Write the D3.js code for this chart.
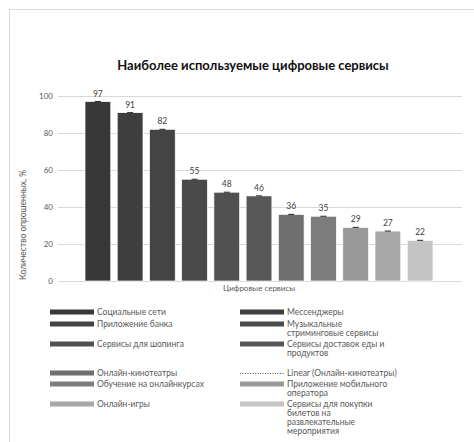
<!DOCTYPE html>
<html>
<head>
<meta charset="utf-8">
<script src="https://cdn.jsdelivr.net/npm/d3@7"></script>
<style>
  body { margin: 0; background: #fff; }
  text { font-family: Lato, "Open Sans", sans-serif; }
</style>
</head>
<body>
<div id="chart"></div>
<script>
const width = 474;
const height = 442;

// данные
const services = [
  "Социальные сети", "Мессенджеры", "Приложение банка",
  "Музыкальные стриминговые сервисы", "Сервисы для шопинга",
  "Сервисы доставок еды и продуктов", "Онлайн-кинотеатры",
  "Обучение на онлайнкурсах", "Приложение мобильного оператора",
  "Онлайн-игры", "Сервисы для покупки билетов на развлекательные мероприятия"
];
const values = [97, 91, 82, 55, 48, 46, 36, 35, 29, 27, 22];
const colors = ["#383838", "#3e3e3e", "#444444", "#4a4a4a", "#515151", "#575757",
  "#6f6f6f", "#7c7c7c", "#999999", "#a8a8a8", "#c4c4c4"];
const yTicks = [0, 20, 40, 60, 80, 100];

// легенда: строки как в Excel (по две в ряд)
const legendItems = [
  { name: "Социальные сети", lines: ["Социальные сети"], i: 0 },
  { name: "Мессенджеры", lines: ["Мессенджеры"], i: 1 },
  { name: "Приложение банка", lines: ["Приложение банка"], i: 2 },
  { name: "Музыкальные", lines: ["Музыкальные", "стриминговые сервисы"], i: 3 },
  { name: "Шопинг", lines: ["Сервисы для шопинга"], i: 4 },
  { name: "Доставка", lines: ["Сервисы доставок еды и", "продуктов"], i: 5 },
  { name: "Кино", lines: ["Онлайн-кинотеатры"], i: 6 },
  { name: "Linear", lines: ["Linear (Онлайн-кинотеатры)"], i: -1 },
  { name: "Обучение", lines: ["Обучение на онлайнкурсах"], i: 7 },
  { name: "Мобильный", lines: ["Приложение мобильного", "оператора"], i: 8 },
  { name: "Игры", lines: ["Онлайн-игры"], i: 9 },
  { name: "Билеты", lines: ["Сервисы для покупки", "билетов на", "развлекательные", "мероприятия"], i: 10 }
];
const legendRowY = [312, 324, 344, 373, 384, 404];

const svg = d3.select("#chart")
  .append("svg")
  .attr("width", width)
  .attr("height", height);

// рамка
svg.append("path")
  .attr("d", "M9.5," + height + "V9.5H" + width)
  .attr("fill", "none")
  .attr("stroke", "#d9d9d9");

svg.append("text")
  .attr("x", 253)
  .attr("y", 70)
  .attr("text-anchor", "middle")
  .attr("font-size", 13)
  .attr("font-weight", "bold")
  .attr("fill", "#111")
  .text("Наиболее используемые цифровые сервисы");

const y = d3.scaleLinear().domain([0, 100]).range([281, 96]);
const x = d3.scaleBand().domain(services).range([85, 433]).paddingInner(0.2);

// сетка
svg.selectAll(".grid")
  .data(yTicks)
  .enter()
  .append("line")
  .attr("x1", 58)
  .attr("x2", 462)
  .attr("y1", d => Math.round(y(d)) + 0.5)
  .attr("y2", d => Math.round(y(d)) + 0.5)
  .attr("stroke", "#d9d9d9");

svg.selectAll(".ytick")
  .data(yTicks)
  .enter()
  .append("text")
  .attr("x", 53)
  .attr("y", d => y(d) + 3)
  .attr("text-anchor", "end")
  .attr("font-size", 8)
  .attr("fill", "#595959")
  .text(d => d);

// столбцы
svg.selectAll(".bar")
  .data(values)
  .enter()
  .append("rect")
  .attr("x", (d, i) => x(services[i]))
  .attr("y", d => y(d))
  .attr("width", x.bandwidth())
  .attr("height", d => y(0) - y(d))
  .attr("fill", (d, i) => colors[i])
  .attr("stroke", "#fff")
  .attr("stroke-width", 0.7);

// маленькие "усы" сверху
svg.selectAll(".cap")
  .data(values)
  .enter()
  .append("line")
  .attr("x1", (d, i) => x(services[i]) + x.bandwidth() / 2 - 3)
  .attr("x2", (d, i) => x(services[i]) + x.bandwidth() / 2 + 3)
  .attr("y1", d => y(d))
  .attr("y2", d => y(d))
  .attr("stroke", "#222")
  .attr("stroke-width", 1);

svg.selectAll(".val")
  .data(values)
  .enter()
  .append("text")
  .attr("x", (d, i) => x(services[i]) + x.bandwidth() / 2)
  .attr("y", d => y(d) - 5)
  .attr("text-anchor", "middle")
  .attr("font-size", 8.5)
  .attr("fill", "#404040")
  .text(d => d);

svg.append("text")
  .attr("x", 259)
  .attr("y", 291)
  .attr("text-anchor", "middle")
  .attr("font-size", 8)
  .attr("fill", "#595959")
  .text("Цифровые сервисы");

svg.append("text")
  .attr("transform", "translate(26,225) rotate(-90)")
  .attr("text-anchor", "middle")
  .attr("font-size", 8.5)
  .attr("fill", "#595959")
  .text("Количество опрошенных, %");

// легенда
const leg = svg.selectAll(".leg")
  .data(legendItems)
  .enter()
  .append("g")
  .attr("transform", (d, k) => `translate(${k % 2 === 0 ? 50 : 240},${legendRowY[Math.floor(k / 2)]})`);

leg.filter(d => d.i >= 0)
  .append("rect")
  .attr("x", 0)
  .attr("y", -2.5)
  .attr("width", 44)
  .attr("height", 5)
  .attr("fill", d => colors[d.i]);

leg.filter(d => d.i < 0)
  .append("line")
  .attr("x1", 0)
  .attr("x2", 44)
  .attr("y1", 0.5)
  .attr("y2", 0.5)
  .attr("stroke", "#555")
  .attr("stroke-dasharray", "1,1.5");

leg.append("text")
  .attr("x", 47)
  .attr("y", 3)
  .attr("font-size", 8.5)
  .attr("fill", "#595959")
  .selectAll("tspan")
  .data(d => d.lines)
  .enter()
  .append("tspan")
  .attr("x", 47)
  .attr("dy", (d, j) => j === 0 ? 0 : 9)
  .text(d => d);
</script>
</body>
</html>
